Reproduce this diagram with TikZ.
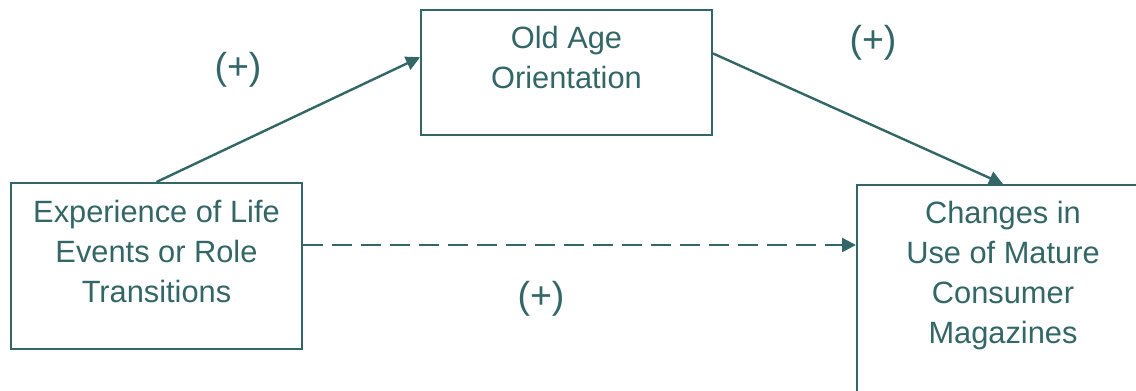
\documentclass[tikz,border=0pt]{standalone}
\usepackage{fontspec}
\setmainfont{Liberation Sans}
\usetikzlibrary{arrows.meta,calc}
\definecolor{teal}{RGB}{51,102,102}

\begin{document}
\begin{tikzpicture}[x=0.5pt,y=-0.5pt,
  box/.style={draw=teal,line width=1pt,inner sep=0pt,minimum width=145.5pt},
  boxtext/.style={text=teal,align=center,font=\fontsize{15.4}{20}\selectfont},
  sign/.style={text=teal,font=\fontsize{18.8}{22}\selectfont},
  link/.style={draw=teal,line width=1.2pt,-{Triangle[length=7pt,width=7pt]}}]
\useasboundingbox (0,0) rectangle (1136,391);
\clip (0,0) rectangle (1136,391);
% the three variables
\node[box,minimum height=83pt] (life) at (156.5,266) {};
\node[box,minimum height=62.5pt] (oldage) at (566.5,72.5) {};
\node[box,minimum width=146pt,minimum height=107.5pt] (mags) at (1003,292.5) {};
\node[boxtext] (lifetext) at ($(life.north)+(0,69)$) {Experience of Life\\Events or Role\\Transitions};
\node[boxtext] (oldagetext) at ($(oldage.north)+(0,48)$) {Old Age\\Orientation};
\node[boxtext] (magstext) at ($(mags.north)+(0,92)$) {Changes in\\Use of Mature\\Consumer\\Magazines};
% paths
\draw[link] (life.north) -- ($(oldage.north west)!0.38!(oldage.south west)$);
\draw[link] ($(oldage.north east)!0.35!(oldage.south east)$) -- (mags.north);
\coordinate (direct) at ($(life.north east)!0.375!(life.south east)$);
\draw[link,dash pattern=on 10pt off 4.5pt] (direct) -- (direct -| mags.west);
\foreach \x/\y/\name in {238/70/signa,873/43/signb,541/299/signc}{\node[sign] (\name) at (\x,\y) {(+)};}
\end{tikzpicture}
\end{document}
